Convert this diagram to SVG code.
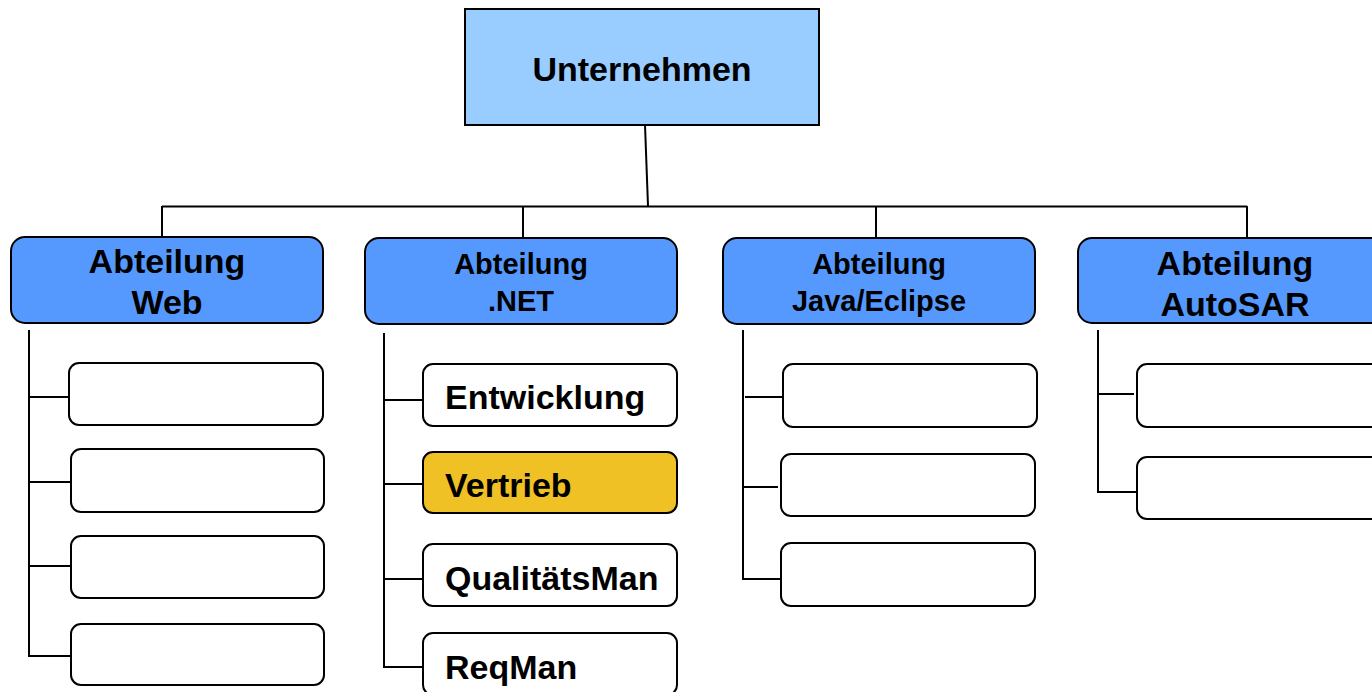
<svg xmlns="http://www.w3.org/2000/svg" width="1372" height="692" viewBox="0 0 1372 692">
  <style>
    .ln { fill: none; stroke: #000; stroke-width: 2; }
    .top { fill: #99CCFF; stroke: #000; stroke-width: 2; }
    .dept { fill: #5599FF; stroke: #000; stroke-width: 2; }
    .unit { fill: #FFFFFF; stroke: #000; stroke-width: 2; }
    .hl { fill: #EFC124; stroke: #000; stroke-width: 2; }
    text { font-family: "Liberation Sans", Arial, sans-serif; font-weight: bold; fill: #000; }
    .big { font-size: 34px; text-anchor: middle; }
    .small { font-size: 29px; text-anchor: middle; }
    .lbl { font-size: 34px; }
  </style>

  <!-- connectors -->
  <g id="connectors" class="ln">
    <path d="M645,125 L648,206"/>
    <path d="M162,206.5 H1247"/>
    <path d="M162,206 V237 M523,206 V238 M876,206 V238 M1247,206 V238"/>
    <!-- Web -->
    <path d="M29,330 V656 H70 M29,397 H69 M29,482 H71 M29,566 H71"/>
    <!-- .NET -->
    <path d="M384,333 V667 H423 M384,400 H423 M384,484 H423 M384,579 H423"/>
    <!-- Java/Eclipse -->
    <path d="M743,330 V579 H782 M745,397 H783 M743,487 H778"/>
    <!-- AutoSAR -->
    <path d="M1098,330 V492 H1137 M1098,394 H1134"/>
  </g>

  <g id="unternehmen">
    <rect class="top" x="465" y="9" width="354" height="116"/>
    <text class="big" x="642" y="81">Unternehmen</text>
  </g>

  <g id="abt-web">
    <rect class="dept" x="11" y="237" width="312" height="86" rx="14"/>
    <text class="big" x="167" y="273">Abteilung</text>
    <text class="big" x="167" y="314">Web</text>
  </g>
  <g id="abt-net">
    <rect class="dept" x="365" y="238" width="312" height="86" rx="14"/>
    <text class="small" x="521" y="274">Abteilung</text>
    <text class="small" x="521" y="311">.NET</text>
  </g>
  <g id="abt-java">
    <rect class="dept" x="723" y="238" width="312" height="86" rx="14"/>
    <text class="small" x="879" y="274">Abteilung</text>
    <text class="small" x="879" y="311">Java/Eclipse</text>
  </g>
  <g id="abt-autosar">
    <rect class="dept" x="1078" y="238" width="314" height="85" rx="14"/>
    <text class="big" x="1235" y="275">Abteilung</text>
    <text class="big" x="1235" y="316">AutoSAR</text>
  </g>

  <!-- Web units -->
  <g id="web-1"><rect class="unit" x="69" y="363" width="254" height="62" rx="10"/></g>
  <g id="web-2"><rect class="unit" x="71" y="449" width="253" height="63" rx="10"/></g>
  <g id="web-3"><rect class="unit" x="71" y="536" width="253" height="62" rx="10"/></g>
  <g id="web-4"><rect class="unit" x="71" y="624" width="253" height="61" rx="10"/></g>

  <!-- .NET units -->
  <g id="net-entwicklung">
    <rect class="unit" x="423" y="364" width="254" height="62" rx="10"/>
    <text class="lbl" x="445" y="409">Entwicklung</text>
  </g>
  <g id="net-vertrieb">
    <rect class="hl" x="423" y="452" width="254" height="61" rx="10"/>
    <text class="lbl" x="445" y="497">Vertrieb</text>
  </g>
  <g id="net-qualitaet">
    <rect class="unit" x="423" y="544" width="254" height="62" rx="10"/>
    <text class="lbl" x="445" y="590">QualitätsMan</text>
  </g>
  <g id="net-reqman">
    <rect class="unit" x="423" y="633" width="254" height="62" rx="10"/>
    <text class="lbl" x="445" y="679">ReqMan</text>
  </g>

  <!-- Java/Eclipse units -->
  <g id="java-1"><rect class="unit" x="783" y="364" width="254" height="63" rx="10"/></g>
  <g id="java-2"><rect class="unit" x="781" y="454" width="254" height="62" rx="10"/></g>
  <g id="java-3"><rect class="unit" x="781" y="543" width="254" height="63" rx="10"/></g>

  <!-- AutoSAR units -->
  <g id="autosar-1"><rect class="unit" x="1137" y="364" width="254" height="63" rx="10"/></g>
  <g id="autosar-2"><rect class="unit" x="1137" y="457" width="254" height="62" rx="10"/></g>
</svg>
